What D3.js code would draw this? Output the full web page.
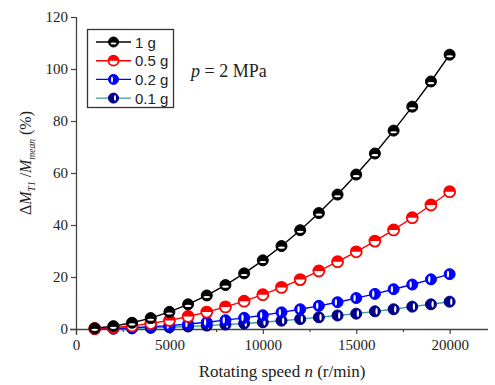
<!DOCTYPE html>
<html><head><meta charset="utf-8">
<script src="https://cdn.jsdelivr.net/npm/d3@7"></script>
<style>body{margin:0;background:#fff}</style>
</head><body>
<svg id="c" width="495" height="385"></svg>
<script>
const speeds = [1000,2000,3000,4000,5000,6000,7000,8000,9000,10000,11000,12000,13000,14000,15000,16000,17000,18000,19000,20000];
const s1g = [0.3,1.1,2.4,4.2,6.6,9.5,12.9,16.9,21.4,26.4,31.9,38.0,44.6,51.7,59.4,67.5,76.3,85.5,95.2,105.5];
const s05g = [0.15,0.55,1.2,2.1,3.3,4.8,6.5,8.5,10.7,13.2,16.0,19.0,22.3,25.9,29.7,33.8,38.1,42.8,47.7,52.8];
const s02g = [0.06,0.22,0.48,0.85,1.3,1.9,2.6,3.4,4.3,5.3,6.4,7.6,8.9,10.3,11.9,13.5,15.3,17.1,19.1,21.1];
const s01g = [0.03,0.11,0.24,0.42,0.66,0.95,1.3,1.7,2.1,2.6,3.2,3.8,4.5,5.2,5.9,6.8,7.6,8.6,9.5,10.5];
const seriesNames = ["1 g","0.5 g","0.2 g","0.1 g"];
const xTicks = [0,5000,10000,15000,20000];
const yTicks = [0,20,40,60,80,100,120];

const series = [
  {name:seriesNames[0], vals:s1g, color:"#000000", line:"#000000", half:"top"},
  {name:seriesNames[1], vals:s05g, color:"#ff0000", line:"#ff0000", half:"top"},
  {name:seriesNames[2], vals:s02g, color:"#0000ff", line:"#0000ff", half:"right"},
  {name:seriesNames[3], vals:s01g, color:"#00008b", line:"#3a9e9a", half:"left"}
];

const svg = d3.select("#c");
const x = d3.scaleLinear().domain([0,22000]).range([76,487]);
const y = d3.scaleLinear().domain([0,120]).range([329,17]);

// axes
const xAxis = d3.axisBottom(x).tickValues(xTicks).tickSize(5).tickPadding(5).tickFormat(d3.format("d"));
const gx = svg.append("g").attr("transform","translate(0,329)").call(xAxis);
gx.select(".domain").attr("d","M70,0.5H488");
svg.append("g").attr("transform","translate(0,329)")
  .call(d3.axisBottom(x).tickValues([2500,7500,12500,17500]).tickSize(3).tickFormat(""))
  .select(".domain").remove();
const yAxis = d3.axisLeft(y).tickValues(yTicks).tickSize(5).tickPadding(3);
const gy = svg.append("g").attr("transform","translate(76,0)").call(yAxis);
gy.select(".domain").attr("d","M0.5,17V335");
svg.selectAll(".domain").attr("stroke","#444").attr("stroke-width",1.3);
svg.selectAll(".tick line").attr("stroke","#444").attr("stroke-width",1.2);
svg.selectAll(".tick text").attr("font-family","Liberation Serif, Times New Roman, serif").attr("font-size",15).attr("fill","#222");

// marker drawing
function marker(g, cx, cy, s, r){
  const gg = g.append("g").attr("transform",`translate(${cx},${cy})`);
  if(s.name===seriesNames[1]){
    gg.append("circle").attr("r",r).attr("fill","#fff").attr("stroke",s.color).attr("stroke-width",1.8);
    gg.append("path").attr("d",d3.arc()({innerRadius:0,outerRadius:r,startAngle:-Math.PI/2,endAngle:Math.PI/2})).attr("fill",s.color);
    gg.append("ellipse").attr("cx",0).attr("cy",r*0.3).attr("rx",r*0.6).attr("ry",r*0.2).attr("fill","#fff");
    return;
  }
  gg.append("circle").attr("r",r).attr("fill",s.color).attr("stroke",s.color).attr("stroke-width",1);
  if(s.half==="top") gg.append("ellipse").attr("cx",0).attr("cy",r*0.3).attr("rx",r*0.6).attr("ry",r*0.2).attr("fill","#fff");
  else if(s.half==="right") gg.append("ellipse").attr("cx",-r*0.3).attr("cy",0).attr("rx",r*0.2).attr("ry",r*0.6).attr("fill","#fff");
  else gg.append("ellipse").attr("cx",r*0.3).attr("cy",0).attr("rx",r*0.2).attr("ry",r*0.6).attr("fill","#fff");
}

const line = d3.line().x(d=>x(d[0])).y(d=>y(d[1]));
const order = [3,2,1,0];
order.forEach(i=>{
  const s = series[i];
  const pts = speeds.map((v,j)=>[v,s.vals[j]]);
  svg.append("path").attr("d",line(pts)).attr("fill","none").attr("stroke",s.line).attr("stroke-width",1.4);
});
order.forEach(i=>{
  const s = series[i];
  const g = svg.append("g");
  speeds.forEach((v,j)=>marker(g, x(v), y(s.vals[j]), s, 5.5));
});

// legend
const lg = svg.append("g");
lg.append("rect").attr("x",87.5).attr("y",29.5).attr("width",86).attr("height",78).attr("fill","#fff").attr("stroke","#333").attr("stroke-width",1.3);
series.forEach((s,i)=>{
  const yy = 42 + i*18.7;
  lg.append("line").attr("x1",96).attr("x2",131).attr("y1",yy).attr("y2",yy).attr("stroke",s.line).attr("stroke-width",1.4);
  marker(lg, 113.5, yy, s, 5);
  lg.append("text").attr("x",135).attr("y",yy+5.5).attr("font-family","Liberation Sans, Arial, sans-serif").attr("font-size",15).attr("fill","#222").text(s.name);
});

// annotation
const ann = svg.append("text").attr("x",191).attr("y",77).attr("font-family","Liberation Serif, Times New Roman, serif").attr("font-size",18).attr("fill","#222");
ann.append("tspan").attr("font-style","italic").text("p");
ann.append("tspan").text(" = 2 MPa");

// axis titles
const xt = svg.append("text").attr("x",282).attr("y",377).attr("text-anchor","middle").attr("font-family","Liberation Serif, Times New Roman, serif").attr("font-size",17).attr("fill","#222");
xt.append("tspan").text("Rotating speed ");
xt.append("tspan").attr("font-style","italic").text("n");
xt.append("tspan").text(" (r/min)");

const yt = svg.append("text").attr("transform","translate(31,163) rotate(-90)").attr("text-anchor","middle").attr("font-family","Liberation Serif, Times New Roman, serif").attr("font-size",16).attr("fill","#222");
yt.append("tspan").text("Δ");
yt.append("tspan").attr("font-style","italic").text("M");
yt.append("tspan").attr("font-style","italic").attr("font-size",9.5).attr("dy",3.5).text("T1");
yt.append("tspan").attr("dy",-3.5).text(" /");
yt.append("tspan").attr("font-style","italic").text("M");
yt.append("tspan").attr("font-style","italic").attr("font-size",9.5).attr("dy",3.5).text("mean");
yt.append("tspan").attr("dy",-3.5).text(" (%)");
</script>
</body></html>
